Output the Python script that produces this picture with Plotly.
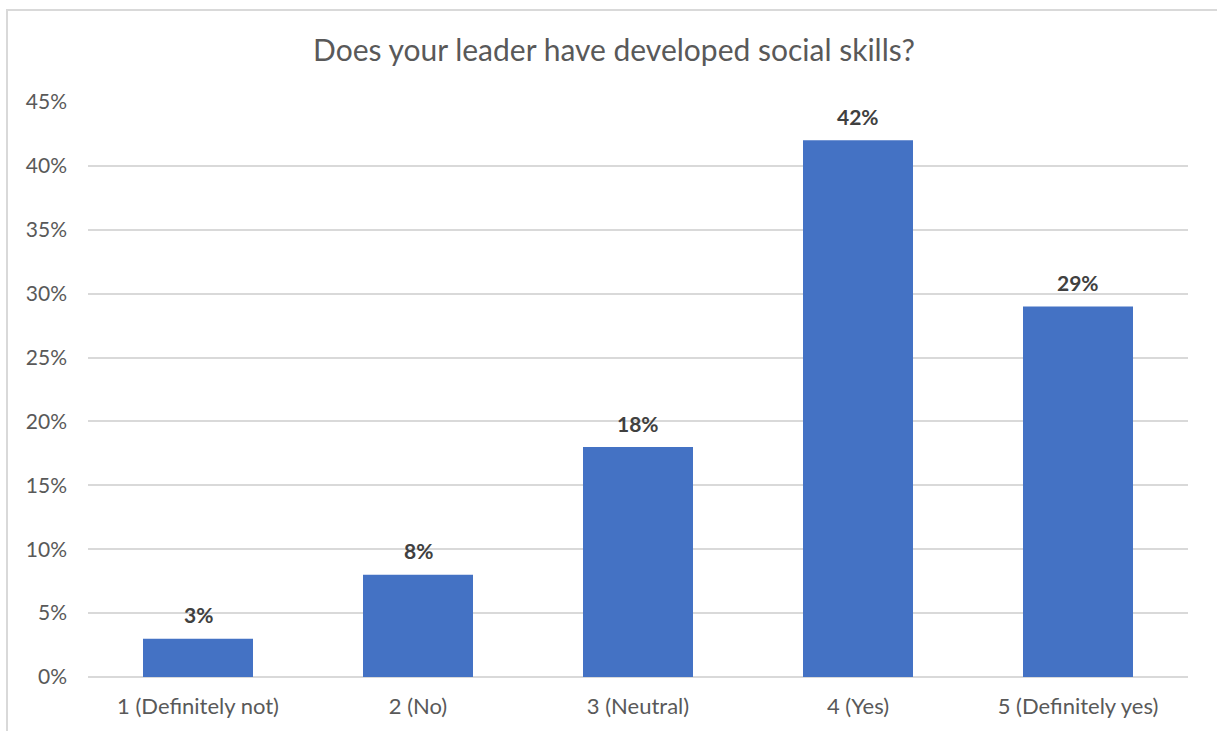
import plotly.graph_objects as go

categories = ["1 (Definitely not)", "2 (No)", "3 (Neutral)", "4 (Yes)", "5 (Definitely yes)"]
values = [0.03, 0.08, 0.18, 0.42, 0.29]
tick_vals = [0, 0.05, 0.10, 0.15, 0.20, 0.25, 0.30, 0.35, 0.40, 0.45]
tick_text = ["0%", "5%", "10%", "15%", "20%", "25%", "30%", "35%", "40%", "45%"]
title_text = "Does your leader have developed social skills?"

FONT = "Lato, 'Open Sans', sans-serif"

fig = go.Figure(
    go.Bar(
        x=categories,
        y=values,
        marker=dict(color="#4472C4", line=dict(width=0)),
        hoverinfo="skip",
    )
)

annotations = [
    dict(
        x=c,
        y=v,
        xref="x",
        yref="y",
        text=f"{round(v*100)}%",
        showarrow=False,
        yanchor="middle",
        yshift=24,
        font=dict(family=FONT, size=21, color="#404040", weight="bold"),
    )
    for c, v in zip(categories, values)
]

fig.update_layout(
    width=1217,
    height=731,
    paper_bgcolor="white",
    plot_bgcolor="white",
    margin=dict(l=88, r=29, t=102, b=54),
    bargap=0.5,
    showlegend=False,
    annotations=annotations,
    title=dict(
        text=title_text,
        x=0.5045,
        xanchor="center",
        y=1 - 50 / 731,
        yanchor="middle",
        yref="container",
        font=dict(family=FONT, size=30, color="#595959"),
    ),
    xaxis=dict(
        showgrid=False,
        showline=False,
        ticks="",
        ticklabelstandoff=14,
        tickfont=dict(family=FONT, size=22, color="#595959"),
    ),
    yaxis=dict(
        range=[0, 0.45],
        tickvals=tick_vals,
        ticktext=tick_text,
        showgrid=True,
        gridcolor="#D9D9D9",
        gridwidth=1.5,
        zeroline=True,
        zerolinecolor="#D9D9D9",
        zerolinewidth=1.5,
        showline=False,
        ticks="",
        ticklabelstandoff=20,
        tickfont=dict(family=FONT, size=21, color="#595959"),
    ),
    shapes=[
        dict(
            type="rect",
            xref="paper",
            yref="paper",
            x0=(7 - 88) / 1100,
            x1=1.2,
            y0=-0.3,
            y1=1 + (102 - 10) / 575,
            line=dict(color="#D9D9D9", width=2),
            fillcolor="rgba(0,0,0,0)",
            layer="below",
        )
    ],
)

fig.write_html(
    "out.html",
    config={"displayModeBar": False},
    post_script="document.body.style.margin='0';document.body.style.overflow='hidden';",
)
